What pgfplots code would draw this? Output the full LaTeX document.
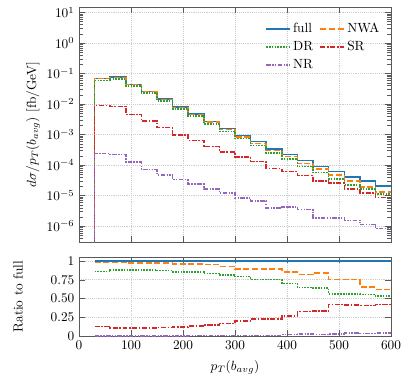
\documentclass[border=0pt]{standalone}
\usepackage{pgfplots}
\usepackage{pgfplotstable}
\pgfplotsset{compat=1.18}
\usetikzlibrary{calc}
\definecolor{cfull}{RGB}{31,119,180}
\definecolor{cnwa}{RGB}{255,127,14}
\definecolor{cdr}{RGB}{44,160,44}
\definecolor{csr}{RGB}{214,39,40}
\definecolor{cnr}{RGB}{148,103,189}

% bin left edges, last row closes the final bin
\pgfplotstableread{
x    full     nwa      dr       sr       nr
30   1e-9     1e-9     1e-9     1e-9     1e-9
30   0.069    0.0676   0.0593   0.00897  2.4e-4
60   0.076    0.0745   0.0669   0.00836  2.2e-4
90   0.044    0.0427   0.0387   0.00462  1.24e-4
120  0.026    0.0252   0.0229   0.00273  7.1e-5
150  0.0146   0.01416  0.0127   0.00168  4.8e-5
180  0.0080   0.00768  0.00684  0.00096  3.35e-5
210  0.0047   0.00451  0.0040   0.000635 2.36e-5
240  0.00267  0.002537 0.002216 0.0004   1.66e-5
270  0.00158  0.001462 0.00128  0.000269 1.23e-5
300  0.00093  0.000828 0.000735 0.000186 8.3e-6
330  0.00058  0.000516 0.000438 0.0001305 6.6e-6
360  0.000335 0.000298 0.000251 7.7e-5   3.9e-6
390  0.000225 0.000191 0.0001575 6.08e-5 4.3e-6
420  0.000139 0.000114 8.97e-5  4.52e-5  3.5e-6
450  8.86e-5  7.44e-5  5.67e-5  2.97e-5  1.86e-6
480  6.2e-5   4.68e-5  3.47e-5  2.6e-5   1.86e-6
510  4.0e-5   3.02e-5  2.24e-5  1.66e-5  1.55e-6
540  2.96e-5  1.92e-5  1.64e-5  1.21e-5  1.12e-6
570  2.08e-5  1.29e-5  1.11e-5  8.7e-6   8.3e-7
600  2.08e-5  1.29e-5  1.11e-5  8.7e-6   8.3e-7
}\spectra

\pgfplotstableread{
x    full  nwa    dr     sr     nr
30   1     0.98   0.86   0.13   0.0035
60   1     0.98   0.88   0.11   0.0029
90   1     0.97   0.88   0.105  0.0028
120  1     0.97   0.88   0.105  0.0027
150  1     0.97   0.87   0.115  0.0033
180  1     0.96   0.855  0.12   0.0042
210  1     0.96   0.85   0.135  0.005
240  1     0.95   0.83   0.15   0.0062
270  1     0.925  0.81   0.17   0.0078
300  1     0.89   0.79   0.20   0.0089
330  1     0.89   0.755  0.225  0.011
360  1     0.89   0.75   0.23   0.0116
390  1     0.85   0.70   0.27   0.0196
420  1     0.82   0.645  0.325  0.025
450  1     0.84   0.64   0.335  0.021
480  1     0.755  0.56   0.42   0.031
510  1     0.755  0.56   0.415  0.041
540  1     0.65   0.555  0.41   0.038
570  1     0.62   0.535  0.42   0.04
600  1     0.62   0.535  0.42   0.04
}\ratios

\tikzset{
  sfull/.style={draw=cfull, line width=1.1pt, solid},
  snwa/.style={draw=cnwa, line width=1.1pt, dash pattern=on 4.5pt off 2pt},
  sdr/.style={draw=cdr, line width=1.1pt, dash pattern=on 1.2pt off 0.9pt},
  ssr/.style={draw=csr, line width=1.1pt, dash pattern=on 3.8pt off 1.2pt on 1.2pt off 1.2pt},
  snr/.style={draw=cnr, line width=1.1pt, dash pattern=on 3.4pt off 1pt on 1.1pt off 1pt on 1.1pt off 1pt},
}
\pgfplotsset{
  panel/.style={
    scale only axis, width=234.6pt,
    xmin=0, xmax=600, xtick={0,100,...,600},
    grid=major, grid style={densely dotted, gray!40},
    axis line style={black!65},
    major tick style={black!65}, minor tick style={black!65},
  },
}

\begin{document}
\begin{tikzpicture}
\begin{axis}[panel, name=top,
    height=176.7pt,
    ymode=log, ymin=3e-7, ymax=15,
    xticklabel=\empty,
    ylabel={$d\sigma/p_T(b_{avg})$ [fb/GeV]},
    every axis y label/.style={at={(axis description cs:-0.1475,0.5)}, rotate=90, anchor=center},
    legend columns=2,
    legend style={draw=none, fill=none, at={(0.985,0.955)}, anchor=north east,
                  /tikz/every even column/.append style={column sep=3pt},
                  row sep=1pt},
    legend cell align=left,
    legend image code/.code={\draw[#1] plot coordinates {(0cm,0cm)(0.62cm,0cm)};},
]
  \addplot[sfull, const plot mark left] table[x=x, y=full] {\spectra};
  \addlegendentry{full}
  \addplot[snwa, const plot mark left] table[x=x, y=nwa] {\spectra};
  \addlegendentry{NWA}
  \addplot[sdr, const plot mark left] table[x=x, y=dr] {\spectra};
  \addlegendentry{DR}
  \addplot[ssr, const plot mark left] table[x=x, y=sr] {\spectra};
  \addlegendentry{SR}
  \addplot[snr, const plot mark left] table[x=x, y=nr] {\spectra};
  \addlegendentry{NR}
\end{axis}
\begin{axis}[panel, name=bot,
    at={($(top.south west)-(0,11.3pt)$)}, anchor=north west,
    height=59.4pt,
    ymin=0, ymax=1.05,
    ytick={0,0.25,0.5,0.75,1},
    yticklabels={0,0.25,0.50,0.75,1},
    xlabel={$p_T(b_{avg})$},
    every axis x label/.style={at={(axis description cs:0.5,-0.392)}, anchor=center},
    ylabel={Ratio to full},
    every axis y label/.style={at={(axis description cs:-0.1955,0.5)}, rotate=90, anchor=center},
]
  \addplot[sfull, const plot mark left] table[x=x, y=full] {\ratios};
  \addplot[snwa, const plot mark left] table[x=x, y=nwa] {\ratios};
  \addplot[sdr, const plot mark left] table[x=x, y=dr] {\ratios};
  \addplot[ssr, const plot mark left] table[x=x, y=sr] {\ratios};
  \addplot[snr, const plot mark left] table[x=x, y=nr] {\ratios};
\end{axis}
\pgfresetboundingbox
\useasboundingbox ($(top.north west)+(-59.4pt,5.3pt)$) rectangle ($(bot.south east)+(12pt,-35.3pt)$);
\end{tikzpicture}
\end{document}
